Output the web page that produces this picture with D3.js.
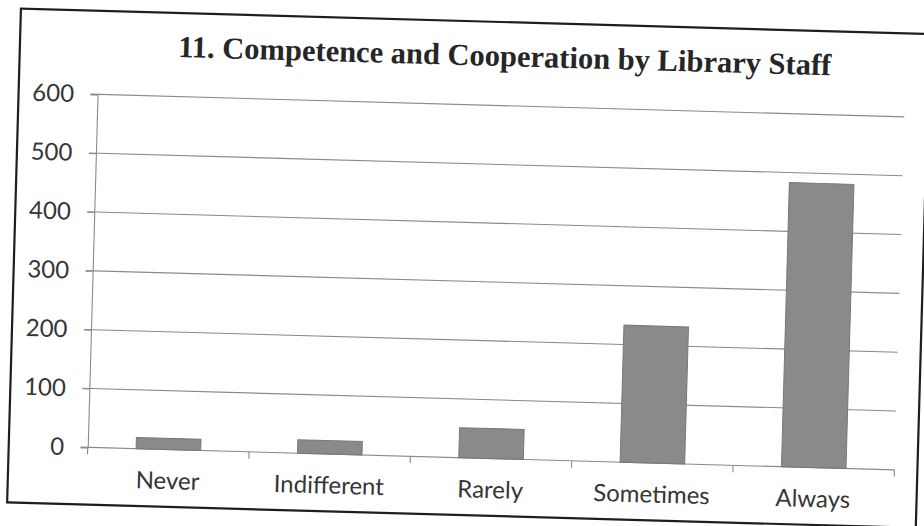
<!DOCTYPE html>
<html><head><meta charset="utf-8">
<script src="https://cdn.jsdelivr.net/npm/d3@7"></script>
<style>body{margin:0;background:#fff}svg{display:block}</style>
</head><body>
<script>
const title = "11. Competence and Cooperation by Library Staff";
const categories = ["Never", "Indifferent", "Rarely", "Sometimes", "Always"];
const values = [19, 23, 51, 233, 483];
const yTicks = [0, 100, 200, 300, 400, 500, 600];

const W = 924, H = 526;
const svg = d3.select("body").append("svg").attr("width", W).attr("height", H);
svg.append("rect").attr("width", W).attr("height", H).attr("fill", "#fff");
const g = svg.append("g").attr("transform", "rotate(1.6,462,263)");

// outer frame
g.append("rect").attr("x", 14).attr("y", 21).attr("width", 909).attr("height", 494)
  .attr("fill", "#fff").attr("stroke", "#1e1e1e").attr("stroke-width", 2.2);

const x = d3.scaleBand().domain(categories).range([93, 900]).paddingInner(0.6).paddingOuter(0.3);
const y = d3.scaleLinear().domain([0, 600]).range([457.7, 104.6]);

// gridlines
g.append("g").selectAll("line").data(yTicks).join("line")
  .attr("x1", 86).attr("x2", 900)
  .attr("y1", d => y(d)).attr("y2", d => y(d))
  .attr("stroke", "#8a8a8a").attr("stroke-width", 1.1);

// y axis
const yAxis = g.append("g").attr("transform", "translate(93,0)")
  .call(d3.axisLeft(y).tickValues(yTicks).tickSize(7).tickPadding(16.5));
yAxis.select(".domain").attr("stroke", "#8a8a8a").attr("stroke-width", 1.1);
yAxis.selectAll(".tick line").attr("stroke", "#8a8a8a");
yAxis.selectAll("text").attr("font-family", "Lato, 'Liberation Sans', sans-serif")
  .attr("font-size", 24).attr("fill", "#363636");

// bars
g.append("g").selectAll("rect").data(values).join("rect")
  .attr("x", (d, i) => x(categories[i]))
  .attr("y", d => y(d))
  .attr("width", x.bandwidth())
  .attr("height", d => y(0) - y(d))
  .attr("fill", "#8a8a8a").attr("stroke", "#777").attr("stroke-width", 1);

// x axis boundary ticks
const step = x.step();
const x0 = x.range()[0];
g.append("g").selectAll("line").data(d3.range(categories.length + 1)).join("line")
  .attr("x1", i => x0 + i * step).attr("x2", i => x0 + i * step)
  .attr("y1", y(0)).attr("y2", y(0) + 7)
  .attr("stroke", "#8a8a8a").attr("stroke-width", 1.1);

// x labels
const xAxis = g.append("g").attr("transform", `translate(0,${y(0)})`)
  .call(d3.axisBottom(x).tickSize(0).tickPadding(22.5));
xAxis.select(".domain").remove();
xAxis.selectAll("text").attr("font-family", "Lato, 'Liberation Sans', sans-serif")
  .attr("font-size", 24).attr("fill", "#363636");

// title
g.append("text").attr("x", 499).attr("y", 65).attr("text-anchor", "middle")
  .attr("font-family", "'Liberation Serif', 'Times New Roman', serif")
  .attr("font-weight", "bold").attr("font-size", 30.5).attr("fill", "#262626")
  .text(title);
</script>
</body></html>
